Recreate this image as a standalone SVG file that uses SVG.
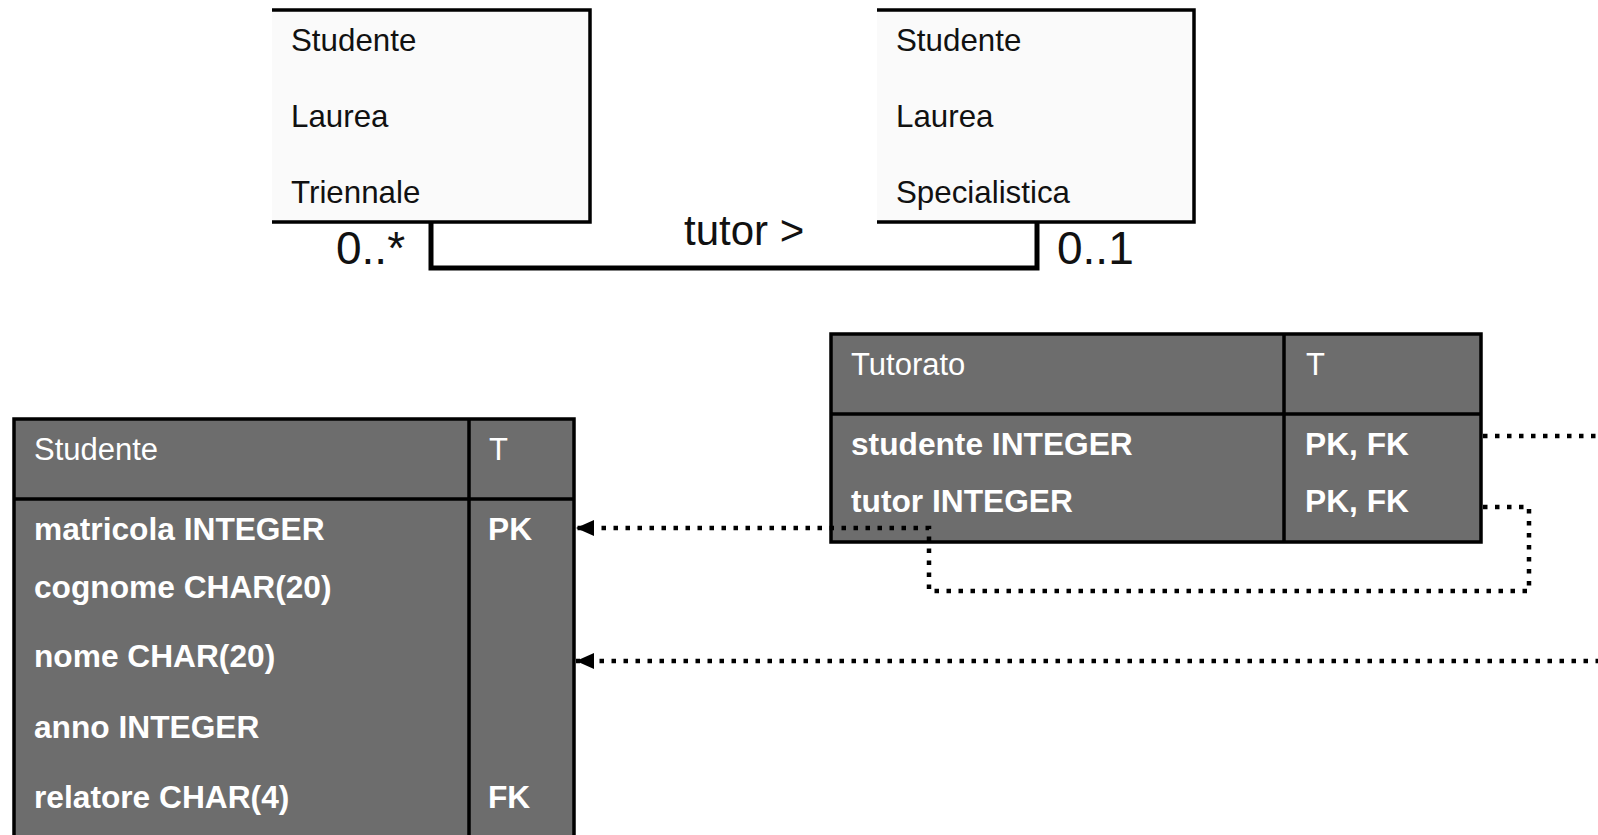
<svg xmlns="http://www.w3.org/2000/svg" width="1598" height="835" viewBox="0 0 1598 835">
<style>
  .box { fill: none; stroke: #000; stroke-width: 3.5; }
  .t { font-family: "Liberation Sans", Arial, sans-serif; font-size: 31.3px; fill: #111; }
  .big { font-family: "Liberation Sans", Arial, sans-serif; font-size: 46px; fill: #111; }
  .lbl { font-family: "Liberation Sans", Arial, sans-serif; font-size: 42px; fill: #111; }
  .tbl { fill: #6d6d6d; stroke: #000; stroke-width: 3.5; }
  .sep { stroke: #000; stroke-width: 3.5; fill: none; }
  .hd { font-family: "Liberation Sans", Arial, sans-serif; font-size: 31px; fill: #fff; }
  .row { font-family: "Liberation Sans", Arial, sans-serif; font-size: 31.7px; font-weight: bold; fill: #fff; }
  .assoc { fill: none; stroke: #000; stroke-width: 5; }
  .fk { fill: none; stroke: #000; stroke-width: 4.5; stroke-dasharray: 4.5 7.5; }
</style>
<defs>
  <marker id="arrow" viewBox="0 0 18 16" refX="18" refY="8" markerWidth="18" markerHeight="16" markerUnits="userSpaceOnUse" orient="auto">
    <path d="M0,0 L18,8 L0,16 z" fill="#000"/>
  </marker>
</defs>

<g id="uml-triennale">
  <rect x="272" y="10" width="318" height="212" fill="#fafafa"/>
  <path class="box" d="M272,10 H590 V222 H272"/>
  <text class="t" x="291" y="51">Studente</text>
  <text class="t" x="291" y="127">Laurea</text>
  <text class="t" x="291" y="203">Triennale</text>
</g>

<g id="uml-specialistica">
  <rect x="877" y="10" width="317" height="212" fill="#fafafa"/>
  <path class="box" d="M877,10 H1194 V222 H877"/>
  <text class="t" x="896" y="51">Studente</text>
  <text class="t" x="896" y="127">Laurea</text>
  <text class="t" x="896" y="203">Specialistica</text>
</g>

<g id="tbl-tutorato">
  <rect class="tbl" x="831" y="334" width="650" height="208"/>
  <line class="sep" x1="831" y1="414" x2="1481" y2="414"/>
  <line class="sep" x1="1284" y1="334" x2="1284" y2="542"/>
  <text class="hd" x="851" y="375">Tutorato</text>
  <text class="hd" x="1306" y="375">T</text>
  <text class="row" x="851" y="455">studente INTEGER</text>
  <text class="row" x="1305" y="455">PK, FK</text>
  <text class="row" x="851" y="512">tutor INTEGER</text>
  <text class="row" x="1305" y="512">PK, FK</text>
</g>

<g id="tbl-studente">
  <rect class="tbl" x="14" y="419" width="560" height="440"/>
  <line class="sep" x1="14" y1="499" x2="574" y2="499"/>
  <line class="sep" x1="469" y1="419" x2="469" y2="850"/>
  <text class="hd" x="34" y="460">Studente</text>
  <text class="hd" x="489" y="460">T</text>
  <text class="row" x="34" y="540">matricola INTEGER</text>
  <text class="row" x="488" y="540">PK</text>
  <text class="row" x="34" y="598">cognome CHAR(20)</text>
  <text class="row" x="34" y="667">nome CHAR(20)</text>
  <text class="row" x="34" y="738">anno INTEGER</text>
  <text class="row" x="34" y="808">relatore CHAR(4)</text>
  <text class="row" x="488" y="808">FK</text>
</g>

<g id="connectors">
  <path class="assoc" d="M431,222 V268 H1037 V222"/>
  <text class="big" x="336" y="264">0..*</text>
  <text class="big" x="1057" y="264">0..1</text>
  <text class="lbl" x="684" y="245">tutor &gt;</text>
  <path class="fk" d="M1483,436 H1600"/>
  <path class="fk" d="M1483,507 H1529 V591 H929 V528 H576" marker-end="url(#arrow)"/>
  <path class="fk" d="M1600,661 H576" marker-end="url(#arrow)"/>
</g>
</svg>
